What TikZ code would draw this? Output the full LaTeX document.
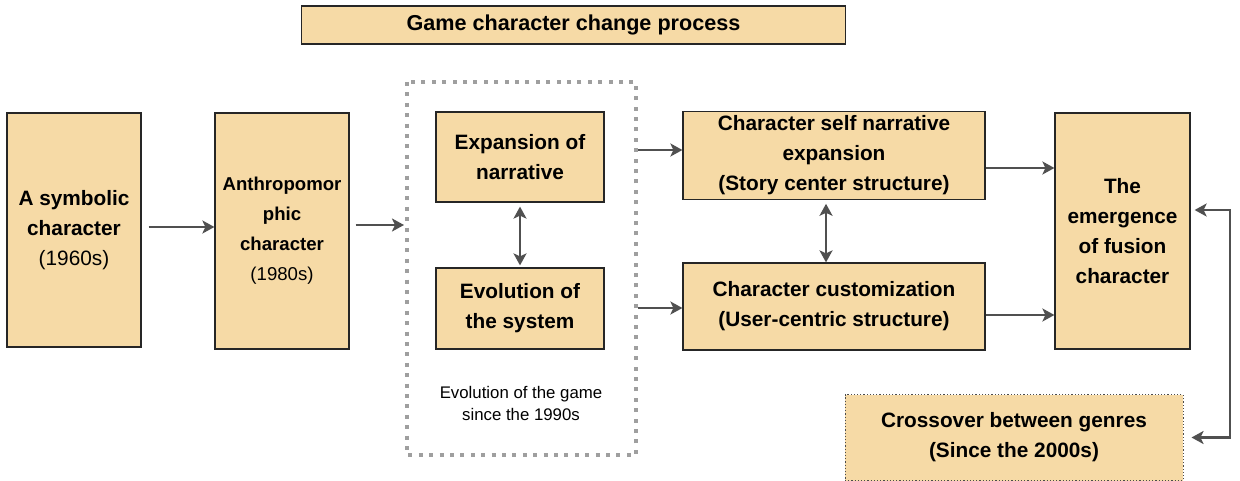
\documentclass[tikz,border=0pt]{standalone}
\usepackage{fontspec}
\setmainfont{Liberation Sans}
\usetikzlibrary{arrows.meta}

\definecolor{boxfill}{RGB}{246,218,166}
\definecolor{arrowgray}{RGB}{80,80,80}

\begin{document}
\begin{tikzpicture}[x=0.5pt, y=-0.5pt, >=Stealth,
    box/.style={draw=black!85, line width=0.6pt, fill=boxfill, align=center,
      inner sep=2pt, font=\fontsize{10.4}{15}\selectfont\bfseries},
    arr/.style={->, draw=arrowgray, line width=1.2pt,
      >={Stealth[length=6pt, width=6.5pt, inset=1.5pt]}},
    darr/.style={arr, <->}]
  \useasboundingbox (0,0) rectangle (1240,481);

  % title
  \node[box, font=\fontsize{10.8}{15}\selectfont\bfseries,
    minimum width=272pt, minimum height=19pt] (title) at (573.5,25)
    {Game character change process};

  % early characters
  \node[box, minimum width=67pt, minimum height=117pt] (symb) at (74,230)
    {A symbolic\\character\\\mdseries(1960s)};
  \node[box, font=\fontsize{9.3}{15}\selectfont\bfseries,
    minimum width=67pt, minimum height=118pt] (anthro) at (282,231)
    {Anthropomor\\phic\\character\\\mdseries(1980s)};

  % evolution since the 1990s
  \draw[gray!75, line width=1.6pt, dash pattern=on 2pt off 3.2pt]
    (407,82) rectangle (636,455);
  \node[box, minimum width=84pt, minimum height=45pt] (narr) at (520,157)
    {Expansion of\\narrative};
  \node[box, minimum width=84pt, minimum height=40.5pt] (sys) at (520,308.5)
    {Evolution of\\the system};
  \node[align=center, font=\fontsize{8.4}{11}\selectfont] (era) at (521,403)
    {Evolution of the game\\since the 1990s};
  \coordinate (evo) at (404,225);
  \coordinate (evoout) at (638,150);
  \coordinate (evoout2) at (638,308);

  % character structures
  \node[box, minimum width=151pt, minimum height=43.5pt] (self) at (834,155.5)
    {Character self narrative\\expansion\\(Story center structure)};
  \node[box, minimum width=151pt, minimum height=43.5pt] (cust) at (834,306.5)
    {Character customization\\(User-centric structure)};

  % fusion
  \node[box, minimum width=67.5pt, minimum height=118pt] (fusion) at (1122.5,231)
    {The\\emergence\\of fusion\\character};
  \node[box, draw=black!70, densely dotted, line width=0.5pt,
    minimum width=169pt, minimum height=43pt] (cross) at (1014,437.5)
    {Crossover between genres\\(Since the 2000s)};
  \coordinate (brk) at (1230,210);

  % arrows
  \draw[arr] (symb.east |- 0,227) ++(7,0) -- (anthro.west |- 0,227);
  \draw[arr] (anthro.east |- 0,225) ++(6,0) -- (evo);
  \draw[darr] ([yshift=-2pt]narr.south) -- ([yshift=1pt]sys.north);
  \draw[arr] (evoout) -- (self.west |- evoout);
  \draw[arr] (evoout2) -- (cust.west |- evoout2);
  \draw[darr] ([xshift=-4pt,yshift=-2pt]self.south) -- ([xshift=-4pt]cust.north);
  \draw[arr] (self.east |- 0,168) -- (fusion.west |- 0,168);
  \draw[arr] (cust.east |- 0,315) -- (fusion.west |- 0,315);
  \draw[darr] (fusion.east |- brk) ++(4,0) -- (brk) -- (brk |- cross.east)
    -- ([xshift=4pt]cross.east);
\end{tikzpicture}
\end{document}
